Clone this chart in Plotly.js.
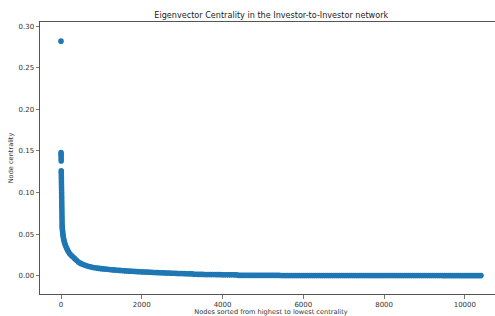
<!DOCTYPE html>
<html>
<head>
<meta charset="utf-8">
<script src="https://cdn.plot.ly/plotly-3.0.1.min.js"></script>
<style>
html,body{margin:0;padding:0;overflow:hidden;background:#fff;width:495px;height:316px;}
#chart{width:502px;height:316px;}
</style>
</head>
<body>
<div id="chart"></div>
<script>
// Node rank (sorted from highest to lowest centrality)
const nodeRank = [
0,1,2,3,4,5,6,7,8,9,10,11,12,13,14,15,16,17,18,19,20,21,22,23,24,25,26,27,28,
30,33,36,40,44,49,55,62,70,80,92,106,122,140,160,182,207,235,265,300,340,385,430,470,
500,550,600,650,700,750,800,850,900,950,1000,1050,1100,1150,1200,1250,1300,1350,1400,1450,
1500,1550,1600,1650,1700,1750,1800,1850,1900,1950,2000,2050,2100,2150,2200,2250,2300,2350,2400,2450,
2500,2550,2600,2650,2700,2750,2800,2850,2900,2950,3000,3050,3100,3150,3200,3250,
3300,3350,3400,3450,3500,3550,3600,3650,3700,3750,3800,3850,3900,3950,4000,4050,4100,4150,4200,4250,4300,4350,
4400,4450,4500,4550,4600,4650,4700,4750,4800,4850,4900,4950,5000,5050,5100,5150,5200,5250,5300,5350,5400,
5450,5500,5550,5600,5650,5700,5750,5800,5850,5900,5950,6000,6050,6100,6150,6200,6250,6300,6350,6400,
6450,6500,6550,6600,6650,6700,6750,6800,6850,6900,6950,7000,7050,7100,7150,7200,7250,7300,7350,7400,
7450,7500,7550,7600,7650,7700,7750,7800,7850,7900,7950,8000,8050,8100,8150,8200,8250,8300,8350,8400,
8450,8500,8550,8600,8650,8700,8750,8800,8850,8900,8950,9000,9050,9100,9150,9200,9250,9300,9350,9400,
9450,9500,9550,9600,9650,9700,9750,9800,9850,9900,9950,10000,10050,10100,10150,10200,10250,10300,10350,10400
];
// Eigenvector centrality
const centrality = [
0.282,0.148,0.146,0.144,0.141,0.138,0.126,0.124,0.121,0.118,0.115,0.112,0.109,0.106,0.103,0.100,0.097,0.094,0.091,0.088,0.085,0.082,0.079,0.076,0.073,0.070,0.067,0.064,0.061,
0.059,0.057,0.055,0.053,0.051,0.049,0.047,0.045,0.043,0.041,0.039,0.037,0.035,0.033,0.031,0.029,0.027,0.0255,0.024,0.0225,0.0205,0.0185,0.0165,0.0152,
0.0145,0.0134,0.0125,0.0117,0.0110,0.0104,0.0099,0.0095,0.0091,0.0088,0.0085,0.0082,0.0080,0.0077,0.0075,0.0072,0.0070,0.0068,0.0066,0.0064,
0.0062,0.0060,0.0058,0.0057,0.0055,0.0054,0.0052,0.0051,0.0049,0.0048,0.0046,0.0045,0.0044,0.0043,0.0042,0.0041,0.0039,0.0038,0.0037,0.0036,
0.0035,0.0034,0.0033,0.0032,0.0031,0.0030,0.0029,0.0028,0.0027,0.0027,0.0026,0.0025,0.0024,0.0023,0.0022,0.0022,
0.0017,0.0017,0.0016,0.0016,0.0016,0.0015,0.0015,0.0015,0.0014,0.0014,0.0014,0.0013,0.0013,0.0013,0.0012,0.0012,0.0012,0.0011,0.0011,0.0011,0.0010,0.0010,
0.0004,0.0004,0.0004,0.0004,0.0004,0.0004,0.0004,0.0004,0.0004,0.0004,0.0004,0.0004,0.0004,0.0004,0.0004,0.0004,0.0004,0.0004,0.0004,0.0004,0.0004,
0.0003,0.0003,0.0003,0.0003,0.0003,0.0003,0.0003,0.0003,0.0003,0.0003,0.0003,0.0003,0.0003,0.0003,0.0003,0.0003,0.0003,0.0003,0.0003,0.0003,
0.0003,0.0003,0.0003,0.0003,0.0003,0.0003,0.0003,0.0003,0.0003,0.0003,0.0003,0.0003,0.0003,0.0003,0.0003,0.0003,0.0003,0.0003,0.0003,0.0003,
0.0002,0.0002,0.0002,0.0002,0.0002,0.0002,0.0002,0.0002,0.0002,0.0002,0.0002,0.0002,0.0002,0.0002,0.0002,0.0002,0.0002,0.0002,0.0002,0.0002,
0.0002,0.0002,0.0002,0.0002,0.0002,0.0002,0.0002,0.0002,0.0002,0.0002,0.0002,0.0002,0.0002,0.0002,0.0002,0.0002,0.0002,0.0002,0.0002,0.0002,
0.0001,0.0001,0.0001,0.0001,0.0001,0.0001,0.0001,0.0001,0.0001,0.0001,0.0001,0.0001,0.0001,0.0001,0.0001,0.0001,0.0001,0.0001,0.0001,0.0001
];
const xTicks = [0,2000,4000,6000,8000,10000];
const yTicks = [0.00,0.05,0.10,0.15,0.20,0.25,0.30];
const yTickText = ["0.00","0.05","0.10","0.15","0.20","0.25","0.30"];

const font = "DejaVu Sans, sans-serif";
const trace = {
  type: "scatter",
  mode: "markers",
  x: nodeRank,
  y: centrality,
  marker: {color: "#1f77b4", size: 5.6, line: {width: 0}},
  hoverinfo: "x+y"
};
const axisCommon = {
  showgrid: false, zeroline: false, showline: true, mirror: true,
  linecolor: "#555", linewidth: 1, ticks: "outside", ticklen: 3.5, tickwidth: 0.8,
  tickcolor: "#555", tickfont: {family: font, size: 7, color: "#333"}
};
const layout = {
  width: 502, height: 316,
  margin: {l: 40, r: 0, t: 22, b: 22},
  paper_bgcolor: "#fff", plot_bgcolor: "#fff",
  showlegend: false,
  title: {text: "Eigenvector Centrality in the Investor-to-Investor network",
          font: {family: font, size: 8.1, color: "#222"},
          x: 0.5404, xref: "container", xanchor: "center",
          y: 1 - 15/316, yref: "container", yanchor: "middle"},
  xaxis: Object.assign({}, axisCommon, {
    range: [-520, 10920], tickvals: xTicks, ticktext: xTicks.map(String),
    title: {text: "Nodes sorted from highest to lowest centrality",
            font: {family: font, size: 6.6, color: "#333"}, standoff: 1}
  }),
  yaxis: Object.assign({}, axisCommon, {
    range: [-0.022, 0.305], tickvals: yTicks, ticktext: yTickText,
    title: {text: "Node centrality", font: {family: font, size: 6.6, color: "#333"}, standoff: 4}
  })
};
Plotly.newPlot("chart", [trace], layout, {displayModeBar: false, staticPlot: true});
</script>
</body>
</html>
